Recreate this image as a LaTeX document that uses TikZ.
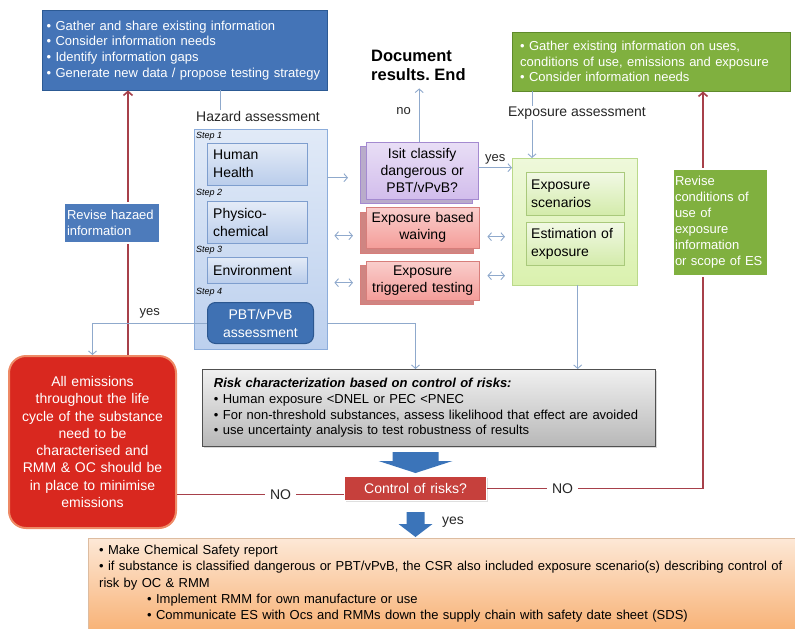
\documentclass[tikz,border=0pt]{standalone}
\usepackage{fontspec}
\setmainfont{Liberation Sans}
\usetikzlibrary{arrows,arrows.meta,shadows}
\frenchspacing

\definecolor{infoblue}{HTML}{4474B7}
\definecolor{infoblueline}{HTML}{2C5A94}
\definecolor{infogreen}{HTML}{80B03F}
\definecolor{infogreenline}{HTML}{5F8A2B}
\definecolor{hazfill}{HTML}{BCD0EE}
\definecolor{hazline}{HTML}{8CADDB}
\definecolor{stepfill}{HTML}{BACDEB}
\definecolor{stepline}{HTML}{7E9ECE}
\definecolor{pbtfill}{HTML}{3F71B3}
\definecolor{pbtline}{HTML}{2B5790}
\definecolor{classfill}{HTML}{D2BDEC}
\definecolor{classline}{HTML}{A48AD0}
\definecolor{waivefill}{HTML}{F49D99}
\definecolor{waiveline}{HTML}{D77E7B}
\definecolor{expfill}{HTML}{DAF1AE}
\definecolor{expline}{HTML}{BAD98A}
\definecolor{expstepfill}{HTML}{D3EBAA}
\definecolor{expstepline}{HTML}{A9C97B}
\definecolor{riskline}{HTML}{505050}
\definecolor{ctrlfill}{HTML}{C6403C}
\definecolor{emitfill}{HTML}{D9281F}
\definecolor{emitline}{HTML}{EE8A66}
\definecolor{reportfill}{HTML}{F8B378}
\definecolor{flowblue}{HTML}{3B74B9}
\definecolor{linkblue}{HTML}{8FA9CC}
\definecolor{backred}{HTML}{A7404A}

\begin{document}
\begin{tikzpicture}[x=1pt,y=-1pt]
        \tikzset{box/.style = {rectangle, anchor=north west, inner ysep=0pt, align=left}}
        \tikzset{infobox/.style = {box, draw=infoblueline, fill=infoblue, text=white, font=\fontsize{13}{15.7}\selectfont}}
        \tikzset{greenbox/.style = {box, draw=infogreenline, fill=infogreen, text=white, font=\fontsize{13}{15.5}\selectfont}}
        \tikzset{stepbox/.style = {box, draw=stepline, top color=stepfill!40, bottom color=stepfill, minimum width=100pt, text width=88pt, inner xsep=6pt, font=\fontsize{14}{18}\selectfont}}
        \tikzset{steplabel/.style = {anchor=west, inner sep=0pt, font=\fontsize{9}{9}\selectfont\itshape}}
        \tikzset{stackbox/.style = {box, align=center, inner xsep=1pt, font=\fontsize{14}{17}\selectfont}}
        \tikzset{expstep/.style = {box, draw=expstepline, top color=expstepfill!30, bottom color=expstepfill, minimum width=98pt, minimum height=43pt, text width=88pt, inner xsep=5pt, font=\fontsize{14}{17.5}\selectfont}}
        \tikzset{lbl/.style = {inner sep=1pt, text=black!85, font=\fontsize{13}{13}\selectfont}}
        \tikzset{nolbl/.style = {lbl, fill=white, inner xsep=5pt, font=\fontsize{14}{14}\selectfont}}
        \tikzset{link/.style = {draw=linkblue, line width=0.9pt, > = {Straight Barb[length=3.5pt, width=8pt]}}}
        \tikzset{backlink/.style = {draw=backred, line width=1.6pt, > = {Straight Barb[length=4pt, width=9pt]}}}
        \useasboundingbox (0,0) rectangle (795,629);
        % information boxes
        \node[infobox, minimum width=285pt, minimum height=80pt, text width=276pt, inner xsep=4.5pt] (gather) at (42,10)
            {• Gather and share existing information\\• Consider information needs\\• Identify information gaps\\• Generate new data / propose testing strategy};
        \node[greenbox, minimum width=278pt, minimum height=59pt, text width=262pt, inner xsep=8pt] (ginfo) at (512,32)
            {• Gather existing information on uses,\\conditions of use, emissions and exposure\\• Consider information needs};
        \node[anchor=west, align=left, inner sep=0pt, font=\fontsize{16.5}{19}\selectfont\bfseries] (doc) at (371,65) {Document\\results. End};
        \node[lbl, font=\fontsize{14}{14}\selectfont] (hazlabel) at (258,116) {Hazard assessment};
        \node[lbl, font=\fontsize{14}{14}\selectfont] (explabel) at (577,113) {Exposure assessment};
        % hazard assessment
        \node[box, draw=hazline, top color=hazfill!45, bottom color=hazfill, minimum width=133pt, minimum height=220pt] (hazard) at (194,129) {};
        \node[steplabel] (s1) at (196,136) {Step 1};
        \node[stepbox, minimum height=42pt] (health) at (207,143) {Human\\Health};
        \node[steplabel] (s2) at (196,193) {Step 2};
        \node[stepbox, minimum height=42pt] (physico) at (207,201) {Physico-\\chemical};
        \node[steplabel] (s3) at (196,250) {Step 3};
        \node[stepbox, minimum height=26pt] (environ) at (207,257) {Environment};
        \node[steplabel] (s4) at (196,292) {Step 4};
        \node[box, rounded corners=8pt, draw=pbtline, line width=1pt, fill=pbtfill, text=white, align=center, minimum width=106pt, minimum height=41pt, text width=104pt, inner xsep=1pt, font=\fontsize{14}{18}\selectfont] (pbt) at (207,302) {PBT/vPvB\\assessment};
        % middle column
        \node[stackbox, draw=classline, top color=classfill!50, bottom color=classfill, general shadow={shadow xshift=-6pt, shadow yshift=-4pt, fill=classfill!80!black!80, draw=classline}, minimum width=112pt, minimum height=57pt, text width=110pt] (classify) at (366,142) {Isit classify\\dangerous or\\PBT/vPvB?};
        \node[stackbox, draw=waiveline, top color=waivefill!50, bottom color=waivefill, general shadow={shadow xshift=-6pt, shadow yshift=-5pt, fill=waivefill!85!black, draw=waiveline}, minimum width=113pt, minimum height=41pt, text width=111pt] (waive) at (366,207) {Exposure based\\waiving};
        \node[stackbox, draw=waiveline, top color=waivefill!50, bottom color=waivefill, general shadow={shadow xshift=-6pt, shadow yshift=-4pt, fill=waivefill!85!black, draw=waiveline}, minimum width=113pt, minimum height=39pt, text width=111pt] (trigger) at (366,261) {Exposure\\triggered testing};
        % exposure assessment
        \node[box, draw=expline, top color=expfill!45, bottom color=expfill, minimum width=125pt, minimum height=127pt] (expo) at (512,158) {};
        \node[expstep] (scen) at (526,172) {Exposure\\scenarios};
        \node[expstep] (estim) at (526,222) {Estimation of\\exposure};
        % risk and outcome
        \node[box, draw=riskline, line width=0.9pt, top color=black!6, bottom color=black!28, drop shadow={opacity=0.3, shadow xshift=1.5pt, shadow yshift=-1.5pt}, minimum width=453pt, minimum height=77pt, text width=430pt, inner xsep=11.5pt, font=\fontsize{13}{15.6}\selectfont] (risk) at (202,369)
            {\textbf{\textit{Risk characterization based on control of risks:}}\\• Human exposure <DNEL or PEC <PNEC\\• For non-threshold substances, assess likelihood that effect are avoided\\• use uncertainty analysis to test robustness of results};
        \node[box, fill=ctrlfill, draw=white, line width=1pt, drop shadow={opacity=0.25, shadow xshift=1pt, shadow yshift=-1.5pt}, text=white, align=center, minimum width=142pt, minimum height=24pt, text width=140pt, inner xsep=1pt, font=\fontsize{14}{14}\selectfont] (ctrl) at (344,476) {Control of risks?};
        \node[box, rounded corners=17pt, draw=emitline, line width=2pt, fill=emitfill, text=white, align=center, minimum width=167pt, minimum height=172pt, text width=163pt, inner xsep=2pt, font=\fontsize{14}{17.3}\selectfont] (emit) at (8,355)
            {All emissions\\throughout the life\\cycle of the substance\\need to be\\characterised and\\RMM \& OC should be\\in place to minimise\\emissions};
        \node[box, draw=reportfill!80!black!60, top color=reportfill!30, bottom color=reportfill, minimum width=707pt, minimum height=91pt, text width=695pt, inner xsep=11pt, font=\fontsize{13}{16.2}\selectfont] (report) at (88,538)
            {• Make Chemical Safety report\\• if substance is classified dangerous or PBT/vPvB, the CSR also included exposure scenario(s) describing control of\\risk by OC \& RMM\\\hspace*{48pt}• Implement RMM for own manufacture or use\\\hspace*{48pt}• Communicate ES with Ocs and RMMs down the supply chain with safety date sheet (SDS)};
        % revision loops
        \coordinate (lft) at (128,300);
        \coordinate (rgt) at (703,300);
        \draw[backlink,->] (emit.north -| lft) -- (gather.south -| lft);
        \draw[backlink,->] (ctrl.east) -- node[nolbl, pos=0.35] {NO} (ctrl.east -| rgt) -- (ginfo.south -| rgt);
        \draw[backlink] ([yshift=-6pt]ctrl.west) -- node[nolbl, pos=0.38] {NO} ([yshift=-6pt]ctrl.west -| emit.east);
        \node[box, fill=infoblue!95!white, draw=white, line width=2pt, text=white, minimum width=96pt, minimum height=40pt, text width=90pt, inner xsep=3pt, font=\fontsize{13}{16}\selectfont] (revisehaz) at (63,202) {Revise hazaed\\information};
        \node[box, fill=infogreen, draw=white, line width=2pt, text=white, minimum width=95pt, minimum height=107pt, text width=91pt, inner xsep=2pt, font=\fontsize{13}{16}\selectfont] (reviseexp) at (672,168) {Revise\\conditions of\\use of\\exposure\\information\\or scope of ES};
        %edges
        \coordinate (hzt) at (220,90);
        \coordinate (ext) at (532,91);
        \draw[link] (hzt) -- (hzt |- hazlabel.north);
        \draw[link] (ext) -- (ext |- explabel.north);
        \draw[link,->] (explabel.south -| ext) -- (ext |- expo.north);
        \draw[link,->, shorten >=18pt] ([yshift=-7pt]classify.west -| hazard.east) -- ([yshift=-7pt]classify.west);
        \draw[link,->, shorten >=8pt] ([xshift=-3pt]classify.north) -- node[lbl, left=7pt] {no} ([xshift=-3pt]classify.north |- doc.south);
        \draw[link,->] ([yshift=3pt]classify.east) -- node[lbl, above=2pt] {yes} ([yshift=3pt]classify.east -| expo.west);
        \draw[link,<->, shorten <=7pt, shorten >=13pt] ([yshift=-8pt]waive.west -| hazard.east) -- ([yshift=-8pt]waive.west);
        \draw[link,<->, shorten <=7pt, shorten >=13pt] ([yshift=-2pt]trigger.west -| hazard.east) -- ([yshift=-2pt]trigger.west);
        \draw[link,<->, shorten <=8pt, shorten >=7pt] ([yshift=-9pt]waive.east) -- ([yshift=-9pt]waive.east -| expo.west);
        \draw[link,<->, shorten <=8pt, shorten >=7pt] ([yshift=5pt]trigger.east) -- ([yshift=5pt]trigger.east -| expo.west);
        \draw[link,->] (pbt.west) -| node[lbl, above=3pt, pos=0.25] {yes} (emit.north);
        \draw[link,->] (hazard.east |- pbt.east) -| (risk.north -| ctrl.north);
        \draw[link,->] ([xshift=3pt]expo.south) -- ([xshift=3pt]expo.south |- risk.north);
        % block arrows
        \fill[flowblue, shift={(ctrl.north)}] (-23,-24) -- (23,-24) -- (23,-15) -- (37,-15) -- (0,-3) -- (-37,-15) -- (-23,-15) -- cycle;
        \fill[flowblue, shift={(report.north -| ctrl.north)}] (-9,-26) -- (9,-26) -- (9,-14) -- (17,-14) -- (0,-1) -- (-17,-14) -- (-9,-14) -- cycle;
        \node[lbl, font=\fontsize{14}{14}\selectfont] (yes3) at (453,522) {yes};
\end{tikzpicture}
\end{document}
